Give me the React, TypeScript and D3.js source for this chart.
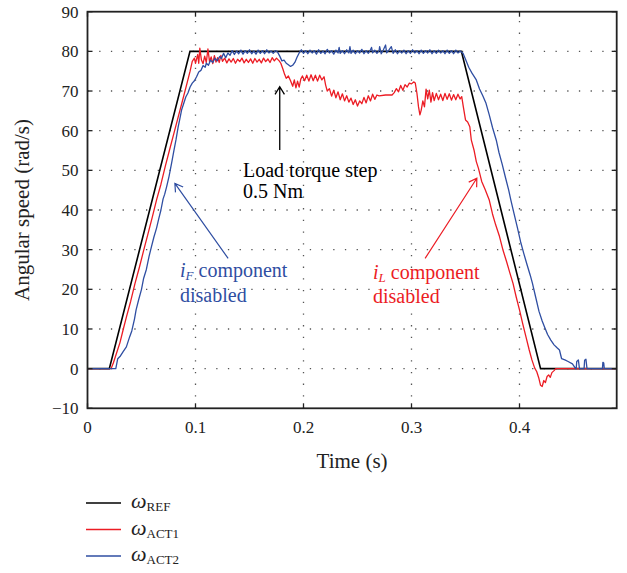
import * as d3 from 'd3';

// reference speed profile
const T_REF = [0, 0.0202, 0.0949, 0.3462, 0.4195, 0.49];
const W_REF = [0, 0, 80, 80, 0, 0];

// measured speed, iL component disabled  [time, rad/s]
const ACT1: [number, number][] = [
  [0, 0], [0.0218, 0], [0.024, 1.5], [0.027, 4], [0.03, 6.5], [0.033, 9.8], [0.036, 13], [0.04, 17],
  [0.044, 21.5], [0.048, 25.5], [0.052, 29.8], [0.056, 34], [0.06, 38.2], [0.064, 42.6], [0.068, 46.5],
  [0.072, 51], [0.076, 55.2], [0.08, 59.3], [0.084, 63.5], [0.088, 67.6], [0.092, 71.8], [0.095, 75],
  [0.097, 77.5], [0.099, 78.3], [0.1, 77], [0.102, 79.2], [0.103, 77], [0.104, 80.8], [0.1055, 77.8],
  [0.107, 76.9], [0.1085, 78.8], [0.11, 77.2], [0.1115, 80.6], [0.113, 77.4], [0.1145, 78.6], [0.116, 76.9],
  [0.1175, 78.9], [0.119, 77.3], [0.1205, 78.4], [0.122, 77.2], [0.1235, 79], [0.125, 77.5], [0.127, 78.3],
  [0.129, 77.1], [0.131, 78.1], [0.133, 77.3], [0.135, 78.2], [0.137, 77], [0.139, 78], [0.141, 77.4],
  [0.143, 78.3], [0.145, 77.1], [0.147, 78], [0.149, 77.2], [0.151, 78.1], [0.153, 77], [0.155, 78.2],
  [0.157, 77.3], [0.159, 78], [0.161, 77.1], [0.163, 78.3], [0.165, 77.4], [0.167, 78.1], [0.169, 77.2],
  [0.171, 78.4], [0.173, 77.6], [0.175, 78.3], [0.1775, 77.6], [0.179, 77], [0.181, 75.5], [0.1825, 74.2],
  [0.184, 73.2], [0.186, 73.8], [0.188, 72.6], [0.19, 71.2], [0.1915, 72.8], [0.193, 70.8], [0.1945, 72.5],
  [0.196, 71], [0.1975, 73], [0.199, 73.8], [0.201, 72.6], [0.203, 74], [0.205, 72.5], [0.207, 74.1],
  [0.209, 72.6], [0.211, 74], [0.213, 72.5], [0.215, 74], [0.217, 72.8], [0.219, 73.6], [0.2205, 71.5],
  [0.222, 70], [0.224, 70.6], [0.226, 68.7], [0.228, 70.2], [0.23, 68.3], [0.232, 69.8], [0.234, 67.8],
  [0.236, 69.3], [0.238, 67.5], [0.24, 68.8], [0.242, 67.2], [0.244, 68.2], [0.246, 66.6], [0.248, 67.8],
  [0.25, 66.2], [0.252, 67.5], [0.254, 66.8], [0.256, 68.4], [0.258, 67], [0.26, 68.8], [0.262, 67.5],
  [0.264, 69.2], [0.266, 67.9], [0.268, 69], [0.27, 68.8], [0.276, 69], [0.282, 69], [0.284, 69.6],
  [0.286, 70.6], [0.288, 69.8], [0.29, 71.4], [0.292, 70.2], [0.294, 71.6], [0.296, 71], [0.298, 72],
  [0.3, 71.8], [0.302, 72.3], [0.3035, 72], [0.305, 69.5], [0.3065, 66], [0.3078, 64], [0.309, 65.2],
  [0.3105, 67.5], [0.312, 66], [0.3135, 70.5], [0.315, 68], [0.3165, 70.2], [0.318, 67.2], [0.3195, 69.6],
  [0.321, 67.6], [0.323, 69.4], [0.325, 67.8], [0.327, 69.2], [0.329, 67.6], [0.331, 69.4], [0.333, 67.9],
  [0.335, 69.3], [0.337, 67.7], [0.339, 69.1], [0.341, 67.8], [0.343, 69.2], [0.345, 68], [0.3465, 68.6],
  [0.348, 66], [0.35, 62.7], [0.352, 62.2], [0.354, 61], [0.3554, 57.6], [0.358, 55], [0.36, 52.2],
  [0.362, 50.5], [0.365, 47.2], [0.368, 45.3], [0.372, 42.5], [0.375, 39], [0.378, 36.2], [0.3815, 33.3],
  [0.3847, 29.9], [0.388, 27], [0.391, 24.2], [0.394, 21.5], [0.397, 18], [0.4, 14.8], [0.403, 11.3],
  [0.406, 8], [0.409, 4.7], [0.4115, 2.2], [0.414, 0.2], [0.416, -0.8], [0.418, -2.5], [0.4195, -4.2],
  [0.421, -4.5], [0.4225, -3], [0.424, -3.5], [0.4255, -2], [0.427, -1.6], [0.4285, -2.2], [0.43, -1],
  [0.432, -0.5], [0.4335, 0], [0.49, 0],
];

// measured speed, iF component disabled  [time, rad/s]
const ACT2: [number, number][] = [
  [0, 0], [0.0262, 0], [0.028, 2.5], [0.0305, 3.2], [0.033, 4.3], [0.036, 5.5], [0.039, 8], [0.041, 9.5],
  [0.0435, 12.5], [0.045, 14.8], [0.0473, 17.3], [0.05, 20], [0.052, 22.8], [0.0545, 25], [0.057, 28.3],
  [0.059, 30.5], [0.0615, 33.2], [0.064, 35.5], [0.066, 37.8], [0.068, 40], [0.07, 42.8], [0.0715, 44],
  [0.0733, 45.9], [0.0755, 48.5], [0.078, 52], [0.08, 55], [0.082, 57.8], [0.084, 61], [0.0855, 63],
  [0.0871, 65.2], [0.089, 66.8], [0.091, 68.5], [0.093, 69.5], [0.095, 71], [0.097, 72], [0.099, 72.6],
  [0.101, 73.6], [0.103, 74.8], [0.105, 75.2], [0.107, 76.4], [0.109, 76], [0.11, 77], [0.112, 76.5],
  [0.114, 77.8], [0.116, 77.2], [0.118, 78.3], [0.12, 77.6], [0.1224, 78.7], [0.124, 78.2], [0.126, 79.5],
  [0.128, 78.4], [0.13, 79.6], [0.132, 79], [0.134, 80.2], [0.136, 79.2], [0.138, 80.1], [0.14, 79.4],
  [0.142, 80.3], [0.144, 79.3], [0.146, 80.2], [0.148, 79.5], [0.15, 80.4], [0.152, 79.4], [0.154, 80.1],
  [0.156, 79.3], [0.158, 80.3], [0.16, 79.5], [0.162, 80.2], [0.164, 79.4], [0.166, 80.4], [0.168, 79.6],
  [0.17, 80.1], [0.172, 79.5], [0.174, 80.2], [0.176, 79.8], [0.178, 78.8], [0.18, 77.6], [0.182, 77.8],
  [0.184, 77], [0.186, 76.6], [0.188, 76.2], [0.19, 76.5], [0.192, 77.2], [0.194, 78.5], [0.196, 79.6],
  [0.198, 80.4], [0.2, 79.5], [0.202, 80.2], [0.204, 79.4], [0.206, 80.3], [0.208, 79.6], [0.21, 80.2],
  [0.212, 79.3], [0.214, 80.4], [0.216, 79.5], [0.218, 80.1], [0.22, 79.4], [0.222, 80.5], [0.224, 79.6],
  [0.226, 80.2], [0.228, 79.3], [0.23, 80.3], [0.232, 79.6], [0.233, 81], [0.234, 79.5], [0.236, 80.2],
  [0.238, 79.4], [0.24, 80.4], [0.242, 79.6], [0.243, 81.2], [0.244, 79.5], [0.246, 80.3], [0.248, 79.4],
  [0.25, 80.2], [0.252, 79.6], [0.254, 80.5], [0.256, 79.4], [0.258, 80.2], [0.26, 79.5], [0.262, 80.4],
  [0.263, 81], [0.264, 79.6], [0.266, 80.3], [0.268, 79.5], [0.27, 80.2], [0.2705, 81.2], [0.272, 79.4],
  [0.274, 80.4], [0.276, 81.6], [0.277, 79.6], [0.279, 80.3], [0.2813, 81.2], [0.283, 79.5], [0.285, 80.4],
  [0.287, 79.4], [0.289, 80.2], [0.291, 79.6], [0.293, 80.3], [0.295, 79.4], [0.297, 80.2], [0.299, 79.5],
  [0.301, 80.4], [0.303, 79.6], [0.305, 80.2], [0.307, 79.4], [0.309, 80.3], [0.311, 79.5], [0.313, 80.2],
  [0.315, 79.6], [0.317, 80.4], [0.319, 79.4], [0.321, 80.2], [0.323, 79.5], [0.325, 80.3], [0.327, 79.6],
  [0.329, 80.2], [0.331, 79.4], [0.333, 80.3], [0.335, 79.5], [0.337, 80.2], [0.339, 79.4], [0.341, 80.3],
  [0.343, 79.6], [0.345, 80.1], [0.3477, 79.5], [0.35, 78], [0.353, 76], [0.356, 74.5], [0.36, 72.8],
  [0.363, 70.5], [0.366, 68.8], [0.369, 66.9], [0.372, 64], [0.375, 60.8], [0.3785, 57.6], [0.381, 54.5],
  [0.384, 51.5], [0.387, 48.2], [0.39, 45], [0.392, 42.5], [0.395, 39], [0.398, 35.6], [0.401, 32],
  [0.404, 29], [0.407, 26.2], [0.41, 23.5], [0.412, 21.5], [0.415, 18], [0.418, 14.5], [0.421, 12],
  [0.423, 10.6], [0.426, 8.6], [0.429, 7.2], [0.432, 6], [0.435, 5.2], [0.437, 4.7], [0.439, 2.5],
  [0.442, 2.2], [0.445, 1.8], [0.449, 1.2], [0.452, 0], [0.4525, 0], [0.453, 1.8], [0.4545, 2.2],
  [0.4555, 0], [0.4598, 0], [0.4603, 2.1], [0.4615, 2.4], [0.4625, 0], [0.4768, 0], [0.4772, 1.6],
  [0.478, 1.4], [0.4785, 0], [0.49, 0],
];

const X_TICKS = [0, 0.1, 0.2, 0.3, 0.4];
const Y_TICKS = [-10, 0, 10, 20, 30, 40, 50, 60, 70, 80, 90];

const BLACK = '#000000';
const RED = '#ec1c24';
const BLUE = '#2f4ea2';
const FONT = '"Liberation Serif", "DejaVu Serif", serif';

export default function App() {
  const W = 627, H = 573;
  const left = 87.5, right = 616.7, top = 11.7, bottom = 408.3;

  const x = d3.scaleLinear().domain([0, 0.49]).range([left, right]);
  const y = d3.scaleLinear().domain([-10, 90]).range([bottom, top]);

  const line = d3.line<[number, number]>().x(d => x(d[0])).y(d => y(d[1]));
  const refPts = T_REF.map((t, i) => [t, W_REF[i]] as [number, number]);

  // open arrowhead helper (pixel coords)
  const arrow = (x0: number, y0: number, x1: number, y1: number) => {
    const a = Math.atan2(y1 - y0, x1 - x0);
    const len = 9, sp = 0.55;
    const p1 = [x1 - len * Math.cos(a - sp), y1 - len * Math.sin(a - sp)];
    const p2 = [x1 - len * Math.cos(a + sp), y1 - len * Math.sin(a + sp)];
    return `M${x0},${y0}L${x1},${y1}M${p1[0]},${p1[1]}L${x1},${y1}L${p2[0]},${p2[1]}`;
  };

  return (
    <svg width={W} height={H} style={{ position: 'absolute', left: 0, top: 0, background: '#fff' }}
      fontFamily={FONT}>
      {/* grid */}
      <g stroke="#555" strokeWidth={1.3} strokeDasharray="1.3,10.4">
        {Y_TICKS.slice(1, -1).map(v => (
          <line key={'gy' + v} x1={left} x2={right} y1={y(v)} y2={y(v)} />
        ))}
        {X_TICKS.slice(1).map(v => (
          <line key={'gx' + v} x1={x(v)} x2={x(v)} y1={bottom} y2={top} />
        ))}
      </g>

      {/* data */}
      <path d={line(refPts) ?? ''} fill="none" stroke={BLACK} strokeWidth={1.6} />
      <path d={line(ACT1) ?? ''} fill="none" stroke={RED} strokeWidth={1.3} strokeLinejoin="round" />
      <path d={line(ACT2) ?? ''} fill="none" stroke={BLUE} strokeWidth={1.3} strokeLinejoin="round" />

      {/* frame + ticks */}
      <rect x={left} y={top} width={right - left} height={bottom - top} fill="none" stroke="#222" strokeWidth={1.8} />
      <g stroke="#222" strokeWidth={1.3}>
        {Y_TICKS.map(v => (
          <g key={'ty' + v}>
            <line x1={left} x2={left + 5} y1={y(v)} y2={y(v)} />
            <line x1={right} x2={right - 5} y1={y(v)} y2={y(v)} />
          </g>
        ))}
        {X_TICKS.map(v => (
          <g key={'tx' + v}>
            <line x1={x(v)} x2={x(v)} y1={bottom} y2={bottom - 5} />
            <line x1={x(v)} x2={x(v)} y1={top} y2={top + 5} />
          </g>
        ))}
      </g>

      {/* tick labels */}
      <g fontSize={17} fill="#222">
        {Y_TICKS.map(v => (
          <text key={'ly' + v} x={left - 9} y={y(v)} dy="0.35em" textAnchor="end">
            {v < 0 ? '\u2212' + Math.abs(v) : v}
          </text>
        ))}
        {X_TICKS.map(v => (
          <text key={'lx' + v} x={x(v)} y={bottom + 25} textAnchor="middle">{v}</text>
        ))}
      </g>

      {/* axis titles */}
      <text x={(left + right) / 2} y={bottom + 60} textAnchor="middle" fontSize={21} fill="#222">Time (s)</text>
      <text transform={`translate(29,${(top + bottom) / 2}) rotate(-90)`} textAnchor="middle" fontSize={21} fill="#222">
        Angular speed (rad/s)
      </text>

      {/* annotations */}
      <path d={arrow(x(0.178), y(55.1), x(0.178), y(71.1))} fill="none" stroke={BLACK} strokeWidth={1.3} />
      <text x={243} y={177} fontSize={20} fill={BLACK}>Load torque step</text>
      <text x={243} y={198} fontSize={20} fill={BLACK}>0.5 Nm</text>

      <path d={arrow(x(0.1302), y(27.8), x(0.0809), y(46.7))} fill="none" stroke={BLUE} strokeWidth={1.2} />
      <text x={180} y={277} fontSize={20} fill={BLUE}>
        <tspan fontStyle="italic">i</tspan>
        <tspan fontStyle="italic" fontSize={13} dy={3}>F</tspan>
        <tspan dy={-3}> component</tspan>
      </text>
      <text x={180} y={302} fontSize={20} fill={BLUE}>disabled</text>

      <path d={arrow(x(0.3126), y(27.8), x(0.3605), y(48))} fill="none" stroke={RED} strokeWidth={1.2} />
      <text x={373} y={279} fontSize={20} fill={RED}>
        <tspan fontStyle="italic">i</tspan>
        <tspan fontStyle="italic" fontSize={13} dy={3}>L</tspan>
        <tspan dy={-3}> component</tspan>
      </text>
      <text x={373} y={303} fontSize={20} fill={RED}>disabled</text>

      {/* legend */}
      {[
        { c: BLACK, sub: 'REF', yy: 503 },
        { c: RED, sub: 'ACT1', yy: 529.5 },
        { c: BLUE, sub: 'ACT2', yy: 556 },
      ].map(l => (
        <g key={l.sub}>
          <line x1={86} x2={121} y1={l.yy} y2={l.yy} stroke={l.c} strokeWidth={1.3} />
          <text x={131} y={l.yy + 5} fontSize={22} fill="#222">
            <tspan fontStyle="italic">ω</tspan>
            <tspan fontSize={13} dy={3}>{l.sub}</tspan>
          </text>
        </g>
      ))}
    </svg>
  );
}
